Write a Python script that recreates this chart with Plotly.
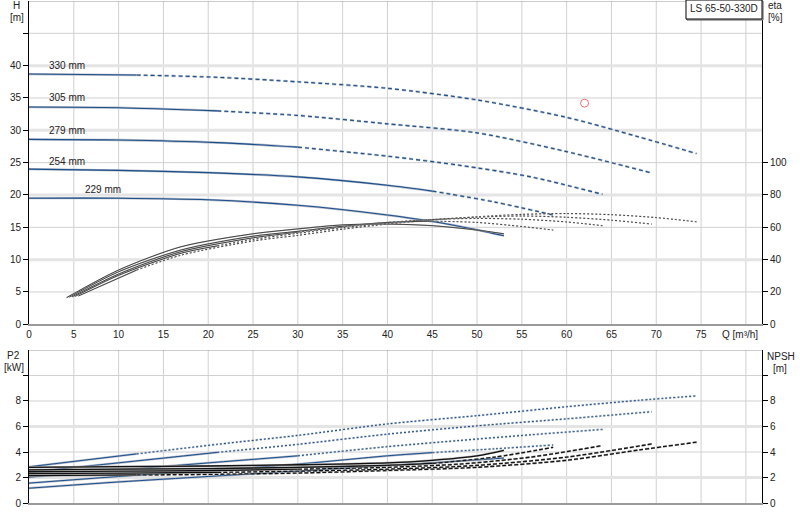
import plotly.graph_objects as go

# Rotores (diâmetros) e ponto onde a curva passa de contínua para tracejada
DIAMETERS = ["330 mm", "305 mm", "279 mm", "254 mm", "229 mm"]
SPLIT_Q = [12, 21, 30, 45, None]

# Vazão Q [m³/h] para H, P2 e NPSH
q_330 = [0, 12, 21, 30, 40, 50, 60, 68, 74.5]
q_305 = [0, 10, 21, 30, 40, 50, 60, 69.5]
q_279 = [0, 10, 21, 30, 40, 48, 56, 64]
q_254 = [0, 10, 20, 30, 40, 45, 52, 58.5]
q_229 = [0, 10, 20, 30, 40, 45, 50, 53]

# Altura H [m]
h_330 = [38.7, 38.55, 38.2, 37.5, 36.5, 34.7, 32.0, 29.0, 26.4]
h_305 = [33.6, 33.5, 33.0, 32.3, 31.0, 29.6, 26.7, 23.4]
h_279 = [28.6, 28.5, 28.1, 27.4, 26.0, 24.6, 22.8, 20.1]
h_254 = [24.0, 23.8, 23.45, 22.8, 21.5, 20.6, 18.9, 16.9]
h_229 = [19.5, 19.5, 19.25, 18.4, 16.9, 15.9, 14.6, 13.7]

# Potência P2 [kW]
p2_330 = [2.84, 3.85, 4.6, 5.3, 6.2, 6.85, 7.55, 8.05, 8.4]
p2_305 = [2.42, 3.15, 3.97, 4.6, 5.4, 6.05, 6.6, 7.16]
p2_279 = [2.03, 2.58, 3.2, 3.7, 4.42, 4.9, 5.35, 5.77]
p2_254 = [1.56, 2.08, 2.55, 3.05, 3.7, 3.95, 4.25, 4.55]
p2_229 = [1.16, 1.65, 2.08, 2.5, 2.95, 3.15, 3.38, 3.53]

# NPSH [m]
npsh_330 = [2.15, 2.2, 2.25, 2.35, 2.55, 2.8, 3.35, 4.15, 4.77]
npsh_305 = [2.3, 2.35, 2.4, 2.5, 2.65, 2.95, 3.6, 4.63]
npsh_279 = [2.45, 2.5, 2.55, 2.65, 2.8, 3.05, 3.6, 4.5]
npsh_254 = [2.6, 2.65, 2.7, 2.8, 2.95, 3.1, 3.6, 4.37]
npsh_229 = [2.8, 2.85, 2.9, 3.0, 3.15, 3.35, 3.7, 4.13]

# Rendimento eta [%] (vazões próprias)
qe_330 = [5.5, 12, 17, 25, 30, 35, 40, 45, 50, 55, 60, 65, 70, 74.5]
qe_305 = [5.1, 10, 17, 21, 25, 30, 35, 40, 45, 50, 55, 60, 65, 69.5]
qe_279 = [4.8, 10, 17, 25, 30, 35, 40, 45, 50, 55, 60, 64]
qe_254 = [4.5, 10, 17, 25, 30, 35, 40, 45, 50, 55, 58.5]
qe_229 = [4.2, 10, 17, 25, 30, 35, 40, 45, 50, 53]
eta_330 = [17.5, 33.5, 42.8, 51.5, 55, 58.8, 62, 64.5, 66.5, 68, 68.5, 67.8, 66, 63.4]
eta_305 = [17.2, 30.3, 44, 48.5, 52.5, 56.3, 59.8, 62.5, 64.8, 66.3, 67, 66.2, 64.4, 62]
eta_279 = [17, 31.1, 45, 53.5, 57, 60.3, 63, 64.8, 65.5, 65, 63.3, 61]
eta_254 = [16.8, 32.5, 46, 54.5, 57.5, 60.7, 63, 63.8, 63, 60.5, 58.3]
eta_229 = [16.5, 33.6, 48, 56, 59, 61.5, 62, 61, 58.3, 56]

# Ponto de trabalho
duty_q = [62]
duty_h = [34.2]

Q_ALL = [q_330, q_305, q_279, q_254, q_229]
H_ALL = [h_330, h_305, h_279, h_254, h_229]
P2_ALL = [p2_330, p2_305, p2_279, p2_254, p2_229]
NPSH_ALL = [npsh_330, npsh_305, npsh_279, npsh_254, npsh_229]
QE_ALL = [qe_330, qe_305, qe_279, qe_254, qe_229]
ETA_ALL = [eta_330, eta_305, eta_279, eta_254, eta_229]

FONT = dict(family="Liberation Sans, Arial", size=10, color="#222222")
BLUE = "#1a4f8b"
BLUE_UNDER = "#b3b9c7"
GRID = "#d0d0d0"
GRID_THICK = "#e4e4e4"


def px_x(px):
    return (px - 29) / 733


def px_y(py):
    return (503 - py) / 502


def split(qs, vs, qsplit):
    if qsplit is None:
        return [(qs, vs, None)]
    i = qs.index(qsplit)
    return [(qs[:i + 1], vs[:i + 1], None), (qs[i:], vs[i:], "dash")]


def add_curve(fig, qs, vs, qsplit, xa, ya, color, under, width, dash, extra=1.2):
    for sq, sv, d in split(qs, vs, qsplit):
        d = dash if d else None
        fig.add_trace(go.Scatter(
            x=sq, y=sv, xaxis=xa, yaxis=ya, mode="lines",
            line=dict(color=under, width=width + extra, dash=d, shape="spline", smoothing=0.8),
            hoverinfo="skip", showlegend=False))
        fig.add_trace(go.Scatter(
            x=sq, y=sv, xaxis=xa, yaxis=ya, mode="lines",
            line=dict(color=color, width=width, dash=d, shape="spline", smoothing=0.8),
            hoverinfo="skip", showlegend=False))


fig = go.Figure()

for i in range(len(DIAMETERS)):
    qs = SPLIT_Q[i]
    add_curve(fig, Q_ALL[i], H_ALL[i], qs, "x", "y", BLUE, BLUE_UNDER, 1.1, "4px,3px")
    add_curve(fig, QE_ALL[i], ETA_ALL[i], qs, "x", "y2", "#111111", "#b8b8b8", 0.7, "2px,2px", 0.6)
    add_curve(fig, Q_ALL[i], P2_ALL[i], qs, "x2", "y3", BLUE, BLUE_UNDER, 1.0, "2px,2px")
    add_curve(fig, Q_ALL[i], NPSH_ALL[i], qs, "x2", "y4", "#111111", "#b0b0b0", 1.3, "4px,2px", 0.8)

fig.add_trace(go.Scatter(
    x=duty_q, y=duty_h, xaxis="x", yaxis="y", mode="markers",
    marker=dict(symbol="circle-open", size=8, color="#f07070", line=dict(width=1)),
    hoverinfo="skip", showlegend=False))

# Rótulos dos diâmetros
label_pos = [(2.0, 40.1), (2.0, 35.0), (2.0, 29.95), (2.0, 25.2), (6.0, 20.9)]
annotations = []
for name, (lx, ly) in zip(DIAMETERS, label_pos):
    annotations.append(dict(x=lx, y=ly, xref="x", yref="y", text=name, showarrow=False,
                            xanchor="left", yanchor="middle", font=FONT))

# Títulos dos eixos
for text, px, py in [("H", 16, 6), ("[m]", 17, 18), ("eta", 775, 6), ("[%]", 775, 18),
                     ("P2", 14, 355), ("[kW]", 14, 367), ("NPSH", 781, 356), ("[m]", 780, 368),
                     ("Q [m³/h]", 740, 334), ("LS 65-50-330D", 724, 9)]:
    annotations.append(dict(x=px_x(px), y=px_y(py), xref="paper", yref="paper", text=text,
                            showarrow=False, xanchor="center", yanchor="middle", font=FONT))

# Grade desenhada à mão (linhas de 10 em 10 mais largas e claras)
shapes = []
for qv in range(5, 85, 5):
    shapes.append(dict(type="line", xref="x", yref="y domain", x0=qv, x1=qv, y0=0, y1=1,
                       line=dict(color=GRID, width=1), layer="below"))
    shapes.append(dict(type="line", xref="x2", yref="y3 domain", x0=qv, x1=qv, y0=0, y1=1,
                       line=dict(color=GRID, width=1), layer="below"))
for hv in range(5, 50, 5):
    thick = hv % 10 == 0
    shapes.append(dict(type="line", xref="x domain", yref="y", x0=0, x1=1, y0=hv, y1=hv,
                       line=dict(color=GRID_THICK if thick else GRID, width=3 if thick else 1),
                       layer="below"))
for pv in range(2, 12, 2):
    thick = pv in (2, 6)
    shapes.append(dict(type="line", xref="x2 domain", yref="y3", x0=0, x1=1, y0=pv, y1=pv,
                       line=dict(color=GRID_THICK if thick else GRID, width=3 if thick else 1),
                       layer="below"))
shapes += [
    dict(type="line", xref="x domain", yref="y", x0=0, x1=1, y0=50, y1=50,
         line=dict(color="#999999", width=1)),
    dict(type="line", xref="x2 domain", yref="y3", x0=0, x1=1, y0=12, y1=12,
         line=dict(color="#999999", width=1)),
    dict(type="rect", xref="paper", yref="paper", x0=px_x(687), x1=px_x(763),
         y0=px_y(20), y1=px_y(1), line=dict(color="#555555", width=1), fillcolor="white"),
    dict(type="rect", xref="paper", yref="paper", x0=px_x(686), x1=px_x(762),
         y0=px_y(19), y1=px_y(0), line=dict(color="black", width=1), fillcolor="white"),
]

x_ticks = list(range(0, 85, 5))
x_text = [str(v) if v < 80 else "" for v in x_ticks]
h_ticks = list(range(0, 50, 5))
h_text = [str(v) if v <= 40 else "" for v in h_ticks]
p_ticks = list(range(0, 12, 2))
p_text = [str(v) if v <= 8 else "" for v in p_ticks]

y_common = dict(ticks="outside", ticklen=5, tickcolor="black", showline=True, linecolor="black",
                linewidth=1, zeroline=False, tickfont=FONT, showgrid=False, automargin=False)

fig.update_layout(
    width=800, height=520,
    margin=dict(l=29, r=38, t=1, b=17, autoexpand=False),
    plot_bgcolor="white", paper_bgcolor="white",
    showlegend=False,
    hovermode=False,
    xaxis=dict(domain=[0, 1], range=[0, 81.8], anchor="y", tickmode="array", tickvals=x_ticks,
               ticktext=x_text, ticks="", showgrid=False, automargin=False,
               showline=True, linecolor="#9a9a9a", linewidth=2, zeroline=False, tickfont=FONT),
    xaxis2=dict(domain=[0, 1], range=[0, 81.8], anchor="y3", tickmode="array",
                tickvals=x_ticks, showticklabels=False, ticks="", showgrid=False, automargin=False,
                showline=True, linecolor="#9a9a9a", linewidth=1.5, zeroline=False),
    yaxis=dict(domain=[0.356, 1], range=[0, 50], anchor="x", tickmode="array", tickvals=h_ticks,
               ticktext=h_text, **y_common),
    yaxis2=dict(overlaying="y", side="right", anchor="x", range=[0, 200], tickmode="array",
                tickvals=list(range(0, 120, 20)), **y_common),
    yaxis3=dict(domain=[0, 0.3048], range=[0, 12], anchor="x2", tickmode="array", tickvals=p_ticks,
                ticktext=p_text, **y_common),
    yaxis4=dict(overlaying="y3", side="right", anchor="x2", range=[0, 12], tickmode="array",
                tickvals=p_ticks, ticktext=p_text, **y_common),
    annotations=annotations,
    shapes=shapes,
)

# A página padrão tem margem de 8px no body; zera para alinhar com a imagem
fig.write_html("out.html", config={"displayModeBar": False},
               post_script="document.body.style.margin='0px';")
